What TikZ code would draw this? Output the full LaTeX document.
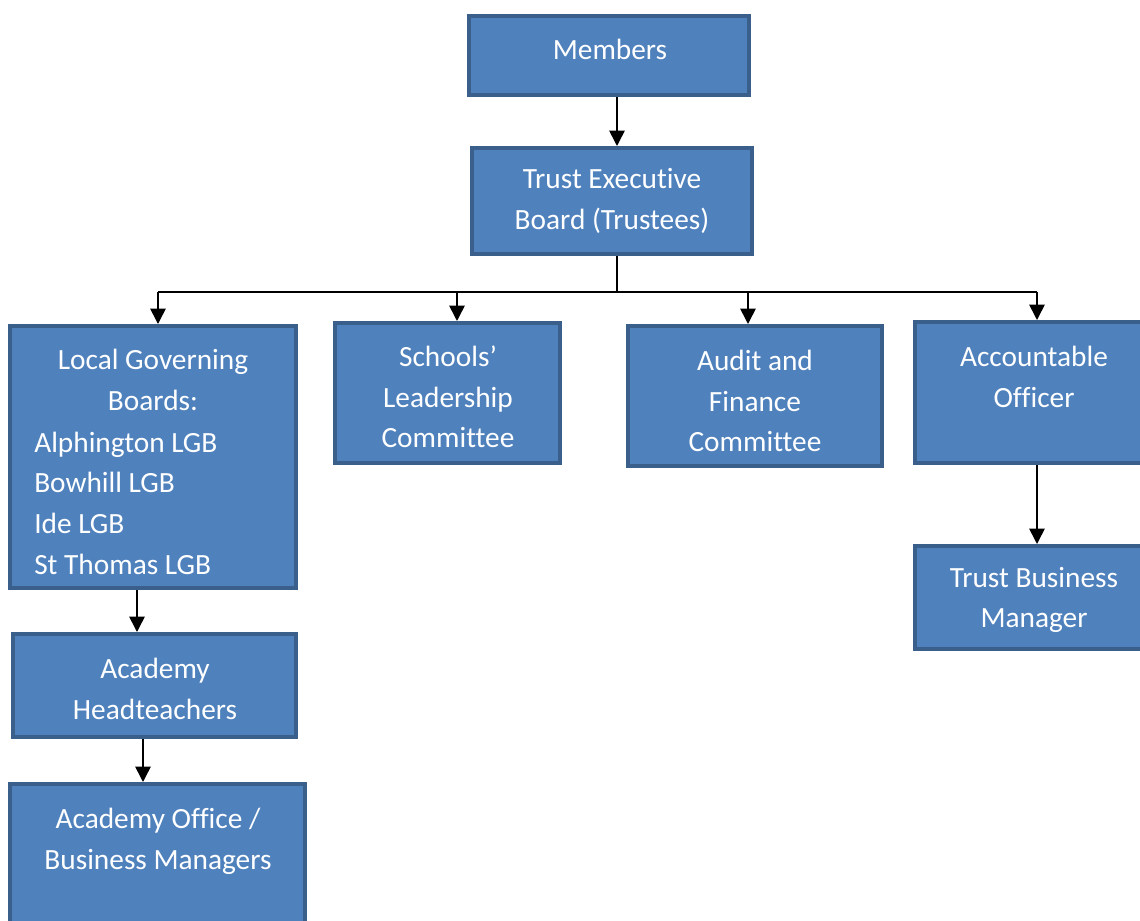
\documentclass[tikz,border=0pt]{standalone}
\usepackage{fontspec}
\setmainfont{Carlito}[Ligatures=NoCommon]
\usetikzlibrary{arrows.meta,fit}

\definecolor{boxfill}{HTML}{4F81BD}
\definecolor{boxline}{HTML}{3A5F8B}

\begin{document}
\begin{tikzpicture}[x=0.75pt, y=-0.75pt,
	box/.style={rectangle, draw=boxline, fill=boxfill, line width=3pt, inner sep=0pt},
	txt/.style={text=white, align=center, inner sep=0pt, font=\fontsize{22}{30.5}\selectfont},
	link/.style={draw=black, line width=1.2pt},
	arrow/.style={link, -{Triangle[length=11.5pt,width=11.5pt]}}]
			\useasboundingbox (0,0) rectangle (1140,921);
			
			% boxes
			\node[box, fit={(469,16) (749,95)}] (members) {};
			\node[box, fit={(472,148) (752,254)}] (board) {};
			\node[box, fit={(10,326) (296,588)}] (lgb) {};
			\node[box, fit={(335,323) (560,463)}] (schools) {};
			\node[box, fit={(628,326) (882,466)}] (audit) {};
			\node[box, fit={(915,322) (1160,463)}] (officer) {};
			\node[box, fit={(915,546) (1160,649)}] (tbm) {};
			\node[box, fit={(13,634) (296,737)}] (heads) {};
			\node[box, fit={(10,784) (305,940)}] (office) {};
			
			% texts
			\node[txt] (t-members) at (610,49) {Members};
			\node[txt] (t-board) at (612,201) {Trust Executive\\Board (Trustees)};
			\node[txt] (t-lgb) at (153,380) {Local Governing\\Boards:};
			\node[txt, align=left, anchor=west] (t-list) at (34,503) {Alphington LGB\\Bowhill LGB\\Ide LGB\\St Thomas LGB};
			\node[txt] (t-schools) at (448,397) {Schools’\\Leadership\\Committee};
			\node[txt] (t-audit) at (755,401) {Audit and\\Finance\\Committee};
			\node[txt] (t-officer) at (1034,377) {Accountable\\Officer};
			\node[txt] (t-tbm) at (1034,600) {Trust Business\\Manager};
			\node[txt] (t-heads) at (155,689) {Academy\\Headteachers};
			\node[txt] (t-office) at (158,841) {Academy Office /\\Business Managers};
			
			% connectors
			\coordinate (spine) at (617,292);
			\coordinate (d1) at (158,292);
			\coordinate (d2) at (457,292);
			\coordinate (d3) at (748,292);
			\coordinate (d4) at (1037,292);
			\coordinate (c1) at (137,0);
			\coordinate (c2) at (143,0);
			
			\path[arrow] (members.south -| spine) -- (board.north -| spine);
			\path[link] (board.south -| spine) -- (spine);
			\path[link] (d1) -- (d4);
			\path[arrow] (d1) -- (lgb.north -| d1);
			\path[arrow] (d2) -- (schools.north -| d2);
			\path[arrow] (d3) -- (audit.north -| d3);
			\path[arrow] (d4) -- (officer.north -| d4);
			\path[arrow] (officer.south -| d4) -- (tbm.north -| d4);
			\path[arrow] (lgb.south -| c1) -- (heads.north -| c1);
			\path[arrow] (heads.south -| c2) -- (office.north -| c2);
\end{tikzpicture}
\end{document}
